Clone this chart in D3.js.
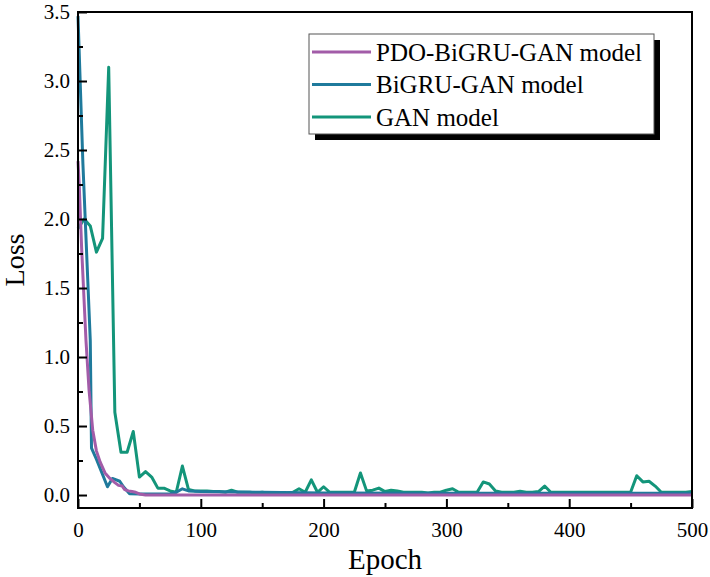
<!DOCTYPE html>
<html>
<head>
<meta charset="utf-8">
<script src="https://cdn.jsdelivr.net/npm/d3@7"></script>
<style>
  body { margin: 0; background: #fff; }
  svg text { font-family: "Liberation Serif", "Times New Roman", serif; fill: #000; }
</style>
</head>
<body>
<div id="chart"></div>
<script>
// GAN model, sampled every 5 epochs
const ganEpochs = [
  0, 5, 10, 15, 20, 25, 30, 35, 40, 45,
  50, 55, 60, 65, 70, 75, 80, 85, 90, 95,
  100, 105, 110, 115, 120, 125, 130, 135, 140, 145,
  150, 155, 160, 165, 170, 175, 180, 185, 190, 195,
  200, 205, 210, 215, 220, 225, 230, 235, 240, 245,
  250, 255, 260, 265, 270, 275, 280, 285, 290, 295,
  300, 305, 310, 315, 320, 325, 330, 335, 340, 345,
  350, 355, 360, 365, 370, 375, 380, 385, 390, 395,
  400, 405, 410, 415, 420, 425, 430, 435, 440, 445,
  450, 455, 460, 465, 470, 475, 480, 485, 490, 495, 500
];
const ganLoss = [
  1.93, 2.00, 1.95, 1.76, 1.86, 3.10, 0.60, 0.31, 0.31, 0.46,
  0.13, 0.17, 0.13, 0.05, 0.05, 0.03, 0.02, 0.21, 0.04, 0.03,
  0.03, 0.03, 0.025, 0.025, 0.02, 0.035, 0.02, 0.02, 0.02, 0.015,
  0.02, 0.015, 0.015, 0.012, 0.015, 0.02, 0.045, 0.02, 0.11, 0.02,
  0.06, 0.02, 0.02, 0.02, 0.02, 0.02, 0.16, 0.03, 0.035, 0.05,
  0.025, 0.035, 0.03, 0.02, 0.02, 0.02, 0.02, 0.015, 0.02, 0.02,
  0.035, 0.045, 0.02, 0.02, 0.02, 0.02, 0.095, 0.08, 0.03, 0.02,
  0.02, 0.02, 0.028, 0.02, 0.02, 0.025, 0.065, 0.02, 0.02, 0.02,
  0.02, 0.02, 0.02, 0.02, 0.02, 0.02, 0.02, 0.02, 0.02, 0.02,
  0.02, 0.14, 0.095, 0.10, 0.065, 0.02, 0.02, 0.02, 0.02, 0.02, 0.025
];

// BiGRU-GAN model
const bigruEpochs = [0, 4, 10, 11, 15, 24, 28, 34, 37, 42, 50, 75, 80, 85, 90, 100, 150, 200, 300, 400, 500];
const bigruLoss   = [3.47, 2.4, 1.12, 0.34, 0.26, 0.06, 0.12, 0.10, 0.06, 0.01, 0.008, 0.01, 0.02, 0.045, 0.03, 0.025, 0.02, 0.015, 0.012, 0.012, 0.012];

// PDO-BiGRU-GAN model
const pdoEpochs = [0, 1, 3, 6.5, 9, 12, 15, 18, 22, 26, 30, 33, 36, 38, 41, 44, 47, 50, 55, 500];
const pdoLoss   = [2.42, 2.25, 1.78, 1.12, 0.76, 0.47, 0.32, 0.24, 0.16, 0.12, 0.09, 0.07, 0.065, 0.04, 0.03, 0.025, 0.02, 0.008, 0, 0];

const xTicks = [0, 100, 200, 300, 400, 500];
const yTicks = [0, 0.5, 1.0, 1.5, 2.0, 2.5, 3.0, 3.5];

const series = [
  { name: "GAN model", x: ganEpochs, y: ganLoss, color: "#13957a" },
  { name: "BiGRU-GAN model", x: bigruEpochs, y: bigruLoss, color: "#1f7a9c" },
  { name: "PDO-BiGRU-GAN model", x: pdoEpochs, y: pdoLoss, color: "#a25ca8" }
];
const legendOrder = ["PDO-BiGRU-GAN model", "BiGRU-GAN model", "GAN model"];

const width = 710, height = 577;
const m = { left: 78, right: 692, top: 12, bottom: 508 };

const svg = d3.select("#chart").append("svg")
  .attr("width", width)
  .attr("height", height);

const x = d3.scaleLinear().domain([0, 500]).range([m.left, m.right]);
const y = d3.scaleLinear().domain([-0.094, 3.5]).range([m.bottom, m.top]);

// lines
const line = d3.line().x(d => x(d[0])).y(d => y(d[1]));
series.forEach(s => {
  svg.append("path")
    .datum(s.x.map((e, i) => [e, s.y[i]]))
    .attr("fill", "none")
    .attr("stroke", s.color)
    .attr("stroke-width", 3)
    .attr("stroke-linejoin", "round")
    .attr("d", line);
});

// minor ticks
svg.append("g")
  .attr("transform", `translate(0,${m.bottom})`)
  .call(d3.axisBottom(x).tickValues([50, 150, 250, 350, 450]).tickSize(-5).tickFormat(""))
  .call(g => g.select(".domain").remove())
  .selectAll("line").attr("stroke-width", 2);
svg.append("g")
  .attr("transform", `translate(${m.left},0)`)
  .call(d3.axisLeft(y).tickValues([0.25, 0.75, 1.25, 1.75, 2.25, 2.75, 3.25]).tickSize(-5).tickFormat(""))
  .call(g => g.select(".domain").remove())
  .selectAll("line").attr("stroke-width", 2);

// major ticks
const xAxis = svg.append("g")
  .attr("transform", `translate(0,${m.bottom})`)
  .call(d3.axisBottom(x).tickValues(xTicks).tickSizeInner(-9).tickSizeOuter(0).tickPadding(14).tickFormat(d3.format("d")));
xAxis.select(".domain").remove();
xAxis.selectAll("line").attr("stroke-width", 2);
xAxis.selectAll("text").attr("font-size", 21).attr("dy", "0.71em");

const yAxis = svg.append("g")
  .attr("transform", `translate(${m.left},0)`)
  .call(d3.axisLeft(y).tickValues(yTicks).tickSizeInner(-9).tickSizeOuter(0).tickPadding(8).tickFormat(d3.format(".1f")));
yAxis.select(".domain").remove();
yAxis.selectAll("line").attr("stroke-width", 2);
yAxis.selectAll("text").attr("font-size", 21);

// frame
svg.append("rect")
  .attr("x", m.left).attr("y", m.top)
  .attr("width", m.right - m.left).attr("height", m.bottom - m.top)
  .attr("fill", "none")
  .attr("stroke", "#000")
  .attr("stroke-width", 2);

// axis titles
svg.append("text")
  .attr("x", (m.left + m.right) / 2)
  .attr("y", 569)
  .attr("text-anchor", "middle")
  .attr("font-size", 29)
  .text("Epoch");
svg.append("text")
  .attr("transform", `translate(24,${(m.top + m.bottom) / 2}) rotate(-90)`)
  .attr("text-anchor", "middle")
  .attr("font-size", 28)
  .text("Loss");

// legend
const lg = svg.append("g");
lg.append("rect")
  .attr("x", 315).attr("y", 40).attr("width", 345).attr("height", 100)
  .attr("fill", "#000");
lg.append("rect")
  .attr("x", 309).attr("y", 34).attr("width", 345).attr("height", 100)
  .attr("fill", "#fff")
  .attr("stroke", "#555")
  .attr("stroke-width", 1);
legendOrder.forEach((name, i) => {
  const s = series.find(d => d.name === name);
  const ly = 52 + i * 32.5;
  lg.append("line")
    .attr("x1", 312).attr("x2", 371)
    .attr("y1", ly).attr("y2", ly)
    .attr("stroke", s.color)
    .attr("stroke-width", 3);
  lg.append("text")
    .attr("x", 376).attr("y", ly)
    .attr("dy", "0.35em")
    .attr("font-size", 25)
    .text(name);
});
</script>
</body>
</html>
